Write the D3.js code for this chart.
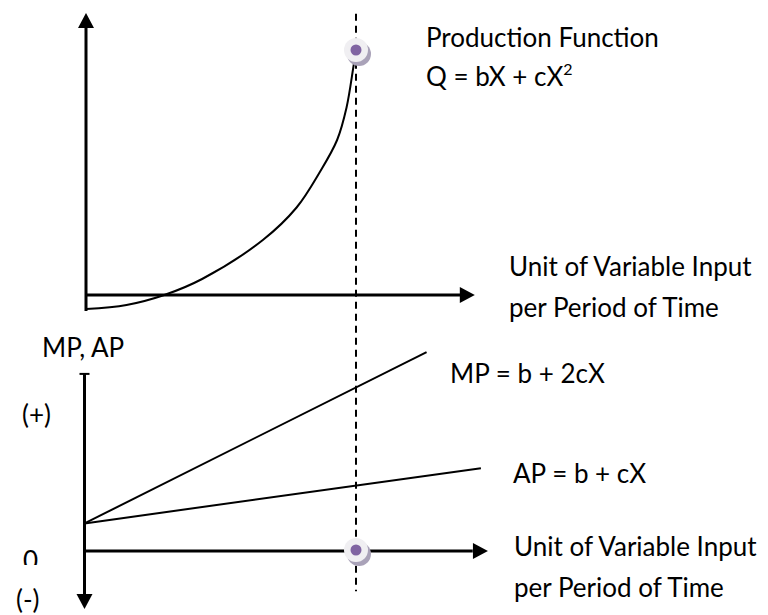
<!DOCTYPE html>
<html>
<head>
<meta charset="utf-8">
<script src="https://cdn.jsdelivr.net/npm/d3@7"></script>
<style>
  body { margin: 0; background: #fff; }
  svg text { font-family: Lato, "Open Sans", sans-serif; font-size: 26px; fill: #000; }
</style>
</head>
<body>
<div class="canvas"></div>
<script>
// production curve (X in input units, Q in output units)
const prodX = [0, 1.5, 2.9, 4.3, 6.55, 7.8, 8.65, 9.3, 9.65, 9.9, 10];
const prodQ = [-0.56, -0.4, 0, 0.64, 2.2, 3.5, 4.9, 6.2, 7.5, 9.1, 9.8];

// marginal and average product lines (start and end points)
const mpX = [0, 12.6];
const mpY = [1.2, 8.65];
const apX = [0, 14.6];
const apY = [1.2, 3.6];

// the marked input level
const markX = 10;

// texts
const prodLabels = ['Production Function', 'Q = bX + cX'];
const axisLabels = ['Unit of Variable Input', 'per Period of Time'];
const lineLabels = ['MP = b + 2cX', 'AP = b + cX'];
const signLabels = ['MP, AP', '(+)', '0', '(-)'];

const svg = d3.select('.canvas')
    .append('svg')
        .attr('width', 768)
        .attr('height', 615);

// scales for the two panels
const xTop = d3.scaleLinear().domain([0, 10]).range([86, 356]);
const yTop = d3.scaleLinear().domain([0, 10]).range([295, 45]);
const xBot = d3.scaleLinear().domain([0, 10]).range([84.5, 356]);
const yBot = d3.scaleLinear().domain([0, 10]).range([551, 321]);

// arrow head helper
const arrow = (x, y, dir) => {
    const L = 15, W = 8;
    let pts;
    if (dir === 'up') pts = [[x, y], [x - W, y + L], [x + W, y + L]];
    if (dir === 'down') pts = [[x, y], [x - W, y - L], [x + W, y - L]];
    if (dir === 'right') pts = [[x, y], [x - L, y - W], [x - L, y + W]];
    svg.append('path')
        .attr('d', 'M' + pts.join('L') + 'Z')
        .attr('fill', '#000');
};

const axisLine = (x1, y1, x2, y2) => {
    svg.append('line')
        .attr('x1', x1).attr('y1', y1)
        .attr('x2', x2).attr('y2', y2)
        .attr('stroke', '#000')
        .attr('stroke-width', 3);
};

// dashed guide at the marked input
svg.append('line')
    .attr('x1', xTop(markX)).attr('y1', yTop(11.25))
    .attr('x2', xBot(markX)).attr('y2', yBot(-1.75))
    .attr('stroke', '#000')
    .attr('stroke-width', 2)
    .attr('stroke-dasharray', '7,5');

// top panel axes
axisLine(xTop(0), yTop(-0.64), xTop(0), yTop(10.84));
arrow(xTop(0), yTop(11.28), 'up');
axisLine(xTop(0), yTop(0), xTop(13.9), yTop(0));
arrow(xTop(14.4), yTop(0), 'right');

// production function
const prodLine = d3.line()
    .x(d => xTop(d[0]))
    .y(d => yTop(d[1]))
    .curve(d3.curveCatmullRom.alpha(0.5));

svg.append('path')
    .datum(prodX.map((x, i) => [x, prodQ[i]]))
    .attr('d', prodLine)
    .attr('fill', 'none')
    .attr('stroke', '#000')
    .attr('stroke-width', 2);

// bottom panel axes
const botTop = 7.7;
axisLine(xBot(0), yBot(botTop), xBot(0), yBot(-2));
svg.append('line')
    .attr('x1', xBot(0) - 5).attr('y1', yBot(botTop))
    .attr('x2', xBot(0) + 5).attr('y2', yBot(botTop))
    .attr('stroke', '#000').attr('stroke-width', 2);
arrow(xBot(0), yBot(-2.52), 'down');
axisLine(xBot(0), yBot(0), xBot(14.3), yBot(0));
arrow(xBot(14.86), yBot(0), 'right');

// MP and AP lines
const straight = d3.line()
    .x(d => xBot(d[0]))
    .y(d => yBot(d[1]));

[[mpX, mpY], [apX, apY]].forEach(([xs, ys]) => {
    svg.append('path')
        .datum(xs.map((x, i) => [x, ys[i]]))
        .attr('d', straight)
        .attr('fill', 'none')
        .attr('stroke', '#000')
        .attr('stroke-width', 2);
});

// markers
const marker = (cx, cy) => {
    const g = svg.append('g');
    g.append('circle').attr('cx', cx + 3).attr('cy', cy + 4).attr('r', 12).attr('fill', '#a9a2b8');
    g.append('circle').attr('cx', cx).attr('cy', cy).attr('r', 12).attr('fill', '#f0eff2');
    g.append('circle').attr('cx', cx).attr('cy', cy).attr('r', 5.5).attr('fill', '#8064a2');
};
marker(xTop(markX), yTop(prodQ[prodQ.length - 1]));
marker(xBot(markX), yBot(0) - 1);

// labels
svg.append('text').attr('x', 426).attr('y', 47).text(prodLabels[0]);
const q = svg.append('text').attr('x', 426).attr('y', 86).text(prodLabels[1]);
q.append('tspan').attr('dy', -11).style('font-size', '16px').text('2');

svg.append('text').attr('x', 509).attr('y', 276).text(axisLabels[0]);
svg.append('text').attr('x', 509).attr('y', 317).text(axisLabels[1]);
svg.append('text').attr('x', 514).attr('y', 556).text(axisLabels[0]);
svg.append('text').attr('x', 514).attr('y', 597).text(axisLabels[1]);

svg.append('text').attr('x', 450).attr('y', 383).text(lineLabels[0]);
svg.append('text').attr('x', 513).attr('y', 483).text(lineLabels[1]);

svg.append('text').attr('x', 42).attr('y', 357).text(signLabels[0]);
svg.append('text').attr('x', 22).attr('y', 424).text(signLabels[1]);

// the zero is cut off at its lower half in the original
svg.append('clipPath').attr('id', 'zclip')
    .append('rect').attr('x', 0).attr('y', 540).attr('width', 60).attr('height', 25);
svg.append('text').attr('x', 23).attr('y', 570).attr('clip-path', 'url(#zclip)').text(signLabels[2]);
svg.append('text').attr('x', 16).attr('y', 609).text(signLabels[3]);
</script>
</body>
</html>
